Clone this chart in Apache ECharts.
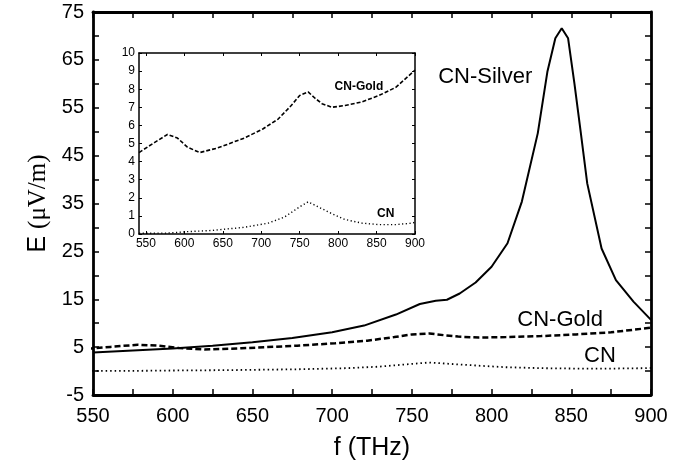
<!DOCTYPE html>
<html>
<head>
<meta charset="utf-8">
<script src="https://cdn.jsdelivr.net/npm/echarts@6/dist/echarts.min.js"></script>
<style>
  html, body { margin: 0; padding: 0; background: #fff; }
  #chart { width: 682px; height: 466px; }
</style>
</head>
<body>
<div id="chart"></div>
<script>
// Field strength E (μV/m) versus frequency f (THz)
const silverF = [550, 575, 600, 625, 650, 675, 700, 720, 740, 755, 765, 772, 780, 790, 800, 810, 819, 829, 835, 840, 844, 848, 852, 856, 860, 869, 878, 889, 900];
const silverE = [3.9, 4.3, 4.7, 5.3, 6.0, 6.9, 8.1, 9.5, 11.8, 14.0, 14.7, 14.9, 16.2, 18.5, 21.8, 26.7, 35.4, 49.7, 62.5, 69.5, 71.6, 69.5, 60.0, 49.7, 39.2, 25.6, 19.0, 14.5, 10.7];

const goldF = [541, 561, 578, 591, 604, 620, 643, 678, 702, 722, 739, 750, 761, 770, 779, 792, 809, 831, 853, 875, 900];
const goldE = [4.5, 5.05, 5.5, 5.3, 4.8, 4.5, 4.75, 5.3, 5.8, 6.35, 7.1, 7.65, 7.85, 7.5, 7.2, 7.0, 7.1, 7.3, 7.65, 8.1, 9.05];

const cnF = [541, 578, 604, 634, 678, 709, 730, 750, 761, 774, 792, 809, 831, 853, 875, 896, 900];
const cnE = [0.04, 0.05, 0.13, 0.19, 0.37, 0.6, 0.93, 1.5, 1.78, 1.5, 1.12, 0.8, 0.6, 0.52, 0.52, 0.6, 0.65];

const insetXLabels = [550, 600, 650, 700, 750, 800, 850, 900];

const pairs = (xs, ys) => xs.map((x, i) => [x, ys[i]]);

const SANS = 'Liberation Sans, Arial, sans-serif';
const SERIF = 'Liberation Serif, Times New Roman, serif';

const mainTick = { show: true, inside: true, length: 6, lineStyle: { color: '#000', width: 1.5 } };
const mainMinor = { show: true, splitNumber: 2, length: 6, lineStyle: { color: '#000', width: 1.5 } };
const mainLine = { show: true, onZero: false, lineStyle: { color: '#000', width: 2.8 } };
const insetLine = { show: true, onZero: false, lineStyle: { color: '#000', width: 1.5 } };
const insetTick = { show: true, inside: true, length: 3, lineStyle: { color: '#000', width: 1 } };

const chart = echarts.init(document.getElementById('chart'), null, { renderer: 'canvas' });

const option = {
  backgroundColor: '#fff',
  animation: false,
  grid: [
    { left: 93, top: 12, width: 558, height: 383, outerBoundsMode: 'none', containLabel: false },
    { left: 139, top: 53, width: 276, height: 181, outerBoundsMode: 'none', containLabel: false,
      show: true, backgroundColor: '#fff', borderWidth: 0, z: 3 }
  ],
  xAxis: [
    { gridIndex: 0, type: 'value', min: 550, max: 900, interval: 50, position: 'bottom',
      axisLine: mainLine, axisTick: mainTick, minorTick: mainMinor, splitLine: { show: false },
      axisLabel: { show: true, margin: 11, color: '#000', fontFamily: SANS, fontSize: 20, showMinLabel: true, showMaxLabel: true },
      name: 'f (THz)', nameLocation: 'middle', nameGap: 41,
      nameTextStyle: { color: '#000', fontFamily: SANS, fontSize: 25 } },
    { gridIndex: 0, type: 'value', min: 550, max: 900, interval: 50, position: 'top',
      axisLine: mainLine, axisTick: mainTick, minorTick: mainMinor, splitLine: { show: false },
      axisLabel: { show: false } },
    { gridIndex: 1, type: 'value', min: 541, max: 900, position: 'bottom', z: 4,
      axisLine: insetLine, axisTick: Object.assign({ customValues: insetXLabels }, insetTick), splitLine: { show: false },
      axisLabel: { show: true, customValues: insetXLabels, margin: 4, color: '#000', fontFamily: SANS, fontSize: 12 } },
    { gridIndex: 1, type: 'value', min: 541, max: 900, position: 'top', z: 4,
      axisLine: insetLine, axisTick: Object.assign({ customValues: insetXLabels }, insetTick), splitLine: { show: false },
      axisLabel: { show: false } }
  ],
  yAxis: [
    { gridIndex: 0, type: 'value', min: -5, max: 75, interval: 10, position: 'left',
      axisLine: mainLine, axisTick: mainTick, minorTick: mainMinor, splitLine: { show: false },
      axisLabel: { show: true, margin: 9, color: '#000', fontFamily: SANS, fontSize: 20, showMinLabel: true, showMaxLabel: true },
      name: '{a|E }{b|(μV/m)}', nameLocation: 'middle', nameGap: 40, nameRotate: 90,
      nameTextStyle: { color: '#000', rich: {
        a: { fontFamily: SANS, fontSize: 25, color: '#000' },
        b: { fontFamily: SERIF, fontSize: 25, color: '#000' } } } },
    { gridIndex: 0, type: 'value', min: -5, max: 75, interval: 10, position: 'right',
      axisLine: mainLine, axisTick: mainTick, minorTick: mainMinor, splitLine: { show: false },
      axisLabel: { show: false } },
    { gridIndex: 1, type: 'value', min: 0, max: 10, interval: 1, position: 'left', z: 4,
      axisLine: insetLine, axisTick: insetTick, splitLine: { show: false },
      axisLabel: { show: true, margin: 4, color: '#000', fontFamily: SANS, fontSize: 12 } },
    { gridIndex: 1, type: 'value', min: 0, max: 10, interval: 1, position: 'right', z: 4,
      axisLine: insetLine, axisTick: insetTick, splitLine: { show: false },
      axisLabel: { show: false } }
  ],
  series: [
    { name: 'CN-Silver', type: 'line', xAxisIndex: 0, yAxisIndex: 0, data: pairs(silverF, silverE),
      showSymbol: false, symbol: 'none', clip: true,
      lineStyle: { color: '#000', width: 2 } },
    { name: 'CN-Gold', type: 'line', xAxisIndex: 0, yAxisIndex: 0, data: pairs(goldF, goldE),
      showSymbol: false, symbol: 'none', clip: true,
      lineStyle: { color: '#000', width: 2.5, type: [6, 3] } },
    { name: 'CN', type: 'line', xAxisIndex: 0, yAxisIndex: 0, data: pairs(cnF, cnE),
      showSymbol: false, symbol: 'none', clip: true,
      lineStyle: { color: '#000', width: 1.8, type: [1.5, 3] } },
    { name: 'CN-Gold inset', type: 'line', xAxisIndex: 2, yAxisIndex: 2, data: pairs(goldF, goldE), z: 5,
      showSymbol: false, symbol: 'none', clip: true,
      lineStyle: { color: '#000', width: 1.6, type: [4, 2] } },
    { name: 'CN inset', type: 'line', xAxisIndex: 2, yAxisIndex: 2, data: pairs(cnF, cnE), z: 5,
      showSymbol: false, symbol: 'none', clip: true,
      lineStyle: { color: '#000', width: 1.4, type: [1.2, 2.5] } }
  ]
};

chart.setOption(option);

// Curve labels, anchored in data coordinates of their own panel
const notes = [
  { text: 'CN-Silver', at: [796, 61.4], grid: 0, font: 'normal 22px ' + SANS },
  { text: 'CN-Gold', at: [843, 10.7], grid: 0, font: 'normal 22px ' + SANS },
  { text: 'CN', at: [868, 3.1], grid: 0, font: 'normal 22px ' + SANS },
  { text: 'CN-Gold', at: [827, 8.15], grid: 1, font: 'bold 12px ' + SANS },
  { text: 'CN', at: [862, 1.1], grid: 1, font: 'bold 12px ' + SANS }
];

chart.setOption({
  graphic: notes.map(n => {
    const p = chart.convertToPixel({ xAxisIndex: n.grid === 0 ? 0 : 2, yAxisIndex: n.grid === 0 ? 0 : 2 }, n.at);
    return {
      type: 'text', x: p[0], y: p[1], z: 10,
      style: { text: n.text, font: n.font, fill: '#000', align: 'center', verticalAlign: 'middle' }
    };
  })
});
</script>
</body>
</html>
